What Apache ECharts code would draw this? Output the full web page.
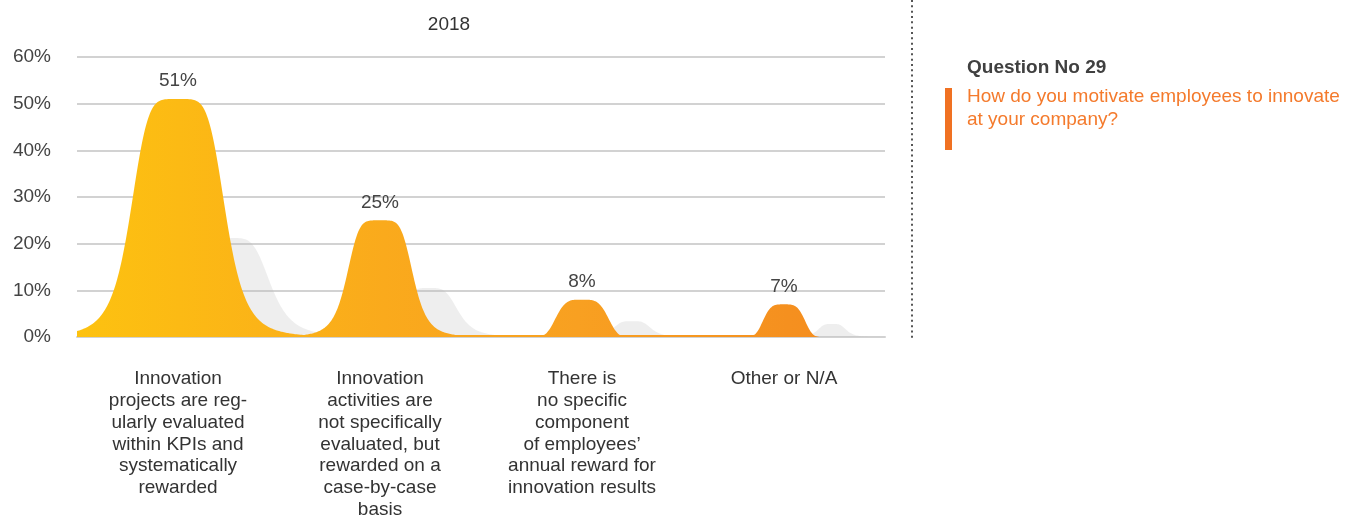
<!DOCTYPE html>
<html>
<head>
<meta charset="utf-8">
<script src="https://cdn.jsdelivr.net/npm/echarts@6/dist/echarts.min.js"></script>
<style>html,body{margin:0;padding:0;background:#fff}#c{width:1353px;height:529px}</style>
</head>
<body>
<div id="c"></div>
<script>
const chartTitle = '2018';
const categories = [
  'Innovation\nprojects are reg-\nularly evaluated\nwithin KPIs and\nsystematically\nrewarded',
  'Innovation\nactivities are\nnot specifically\nevaluated, but\nrewarded on a\ncase-by-case\nbasis',
  'There is\nno specific\ncomponent\nof employees’\nannual reward for\ninnovation results',
  'Other or N/A'
];
const values2018 = [51, 25, 8, 7];
const shadowValues = [21.2, 10.5, 3.4, 2.8];
const questionNo = 'Question No 29';
const questionLines = ['How do you motivate employees to innovate', 'at your company?'];

const FONT = '"Liberation Sans", Arial, Helvetica, sans-serif';

// shape styling: spread / shift as fraction of category band width
const peakSpread = [0.240, 0.168, 0.131, 0.104];
const peakShift = [0, 0, 0, 0];
const peakKind = ['r', 'r', 'g', 'g'];   // r: rational, g: super-gaussian
const shadowSpread = [0.198, 0.149, 0.099, 0.074];
const shadowShift = [0.267, 0.243, 0.248, 0.238];
const shadowKind = ['r', 'r', 'r', 'r'];

const orangeFill = {
  type: 'linear', x: 77, y: 0, x2: 885, y2: 0, global: true,
  colorStops: [
    {offset: 0, color: '#FDC210'},
    {offset: 0.38, color: '#FAAA1C'},
    {offset: 0.62, color: '#F8A021'},
    {offset: 0.88, color: '#F5901F'},
    {offset: 1, color: '#F48A1F'}
  ]
};
const greyFill = 'rgba(190,190,190,0.26)';

function bump(params, api, spread, shift, kind, power, minT, fill, withLabel) {
  const i = api.value(0), v = api.value(1);
  const cs = params.coordSys;
  const base = api.coord([i, 0]), top = api.coord([i, v]);
  const band = api.size([1, 0])[0];
  const cx = base[0] + shift[i] * band, s = spread[i] * band, h = base[1] - top[1];
  const x0 = Math.max(cs.x, cx - 1.3 * band), x1 = Math.min(cs.x + cs.width, cx + 1.3 * band);
  const pts = [];
  const fy = x => {
    const u = Math.abs(x - cx) / s;
    let f = kind[i] === 'g' ? h * Math.exp(-Math.LN2 * Math.pow(u, 4)) : h / (1 + Math.pow(u, power));
    if (x <= cx) f = Math.max(f, minT);
    return base[1] - f;
  };
  for (let x = x0; x < x1; x += 1) pts.push([x, fy(x)]);
  pts.push([x1, fy(x1)], [x1, base[1]], [x0, base[1]]);
  const children = [{type: 'polygon', shape: {points: pts}, style: {fill: fill}}];
  if (withLabel) {
    children.push({type: 'text', style: {text: v + '%', x: cx, y: top[1] - 18, align: 'center', verticalAlign: 'middle', fill: '#444', font: '19px ' + FONT}});
  }
  return {type: 'group', children: children};
}

const chart = echarts.init(document.getElementById('c'), null, {renderer: 'canvas'});
chart.setOption({
  animation: false,
  backgroundColor: '#fff',
  grid: {left: 77, right: 468, top: 57, bottom: 192},
  xAxis: {
    type: 'category', data: categories, boundaryGap: true,
    axisLine: {show: true, lineStyle: {color: '#d2d2d2', width: 2}},
    axisTick: {show: false},
    axisLabel: {interval: 0, color: '#333', fontSize: 19, lineHeight: 21.8, margin: 31, fontFamily: FONT}
  },
  yAxis: {
    type: 'value', min: 0, max: 60, interval: 10,
    axisLine: {show: false}, axisTick: {show: false},
    axisLabel: {formatter: '{value}%', color: '#444', fontSize: 19, margin: 26, padding: [6, 0, 0, 0], fontFamily: FONT},
    splitLine: {lineStyle: {color: '#d2d2d2', width: 2}}
  },
  series: [
    {
      type: 'custom', name: 'shadow', silent: true, z: 1,
      encode: {x: 0, y: 1},
      data: shadowValues.map((v, i) => [i, v]),
      renderItem: (p, a) => bump(p, a, shadowSpread, shadowShift, shadowKind, 4, 0, greyFill, false)
    },
    {
      type: 'custom', name: chartTitle, silent: true, z: 2,
      encode: {x: 0, y: 1},
      data: values2018.map((v, i) => [i, v]),
      renderItem: (p, a) => bump(p, a, peakSpread, peakShift, peakKind, 5, 2, orangeFill, true)
    }
  ],
  graphic: [
    {type: 'text', x: 449, y: 25, style: {text: chartTitle, align: 'center', verticalAlign: 'middle', fill: '#333', font: '19px ' + FONT}},
    {type: 'line', shape: {x1: 912, y1: 0, x2: 912, y2: 338}, style: {stroke: '#555', lineWidth: 2, lineDash: [2, 3.33]}},
    {type: 'text', x: 967, y: 68, style: {text: questionNo, align: 'left', verticalAlign: 'middle', fill: '#404040', font: 'bold 19px ' + FONT}},
    {type: 'rect', shape: {x: 945, y: 88, width: 7, height: 62}, style: {fill: '#F07122'}},
    {type: 'text', x: 967, y: 97, style: {text: questionLines[0], align: 'left', verticalAlign: 'middle', fill: '#F47A2C', font: '19px ' + FONT}},
    {type: 'text', x: 967, y: 120, style: {text: questionLines[1], align: 'left', verticalAlign: 'middle', fill: '#F47A2C', font: '19px ' + FONT}}
  ]
});
</script>
</body>
</html>
